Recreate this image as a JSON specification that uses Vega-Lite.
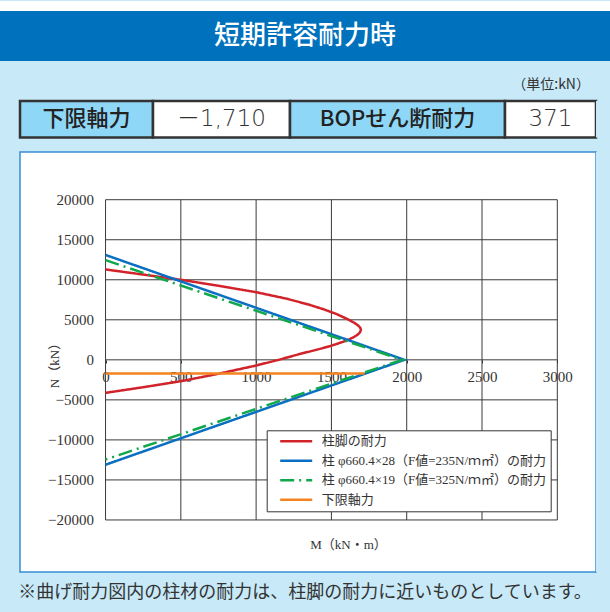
{
  "$schema": "https://vega.github.io/schema/vega-lite/v6.json",
  "padding": 0,
  "background": "#c7e9f8",
  "spacing": 0,
  "config": {"view": {"stroke": null}, "font": "Noto Sans CJK JP"},
  "datasets": {
    "vgrid": [{"M": 0}, {"M": 500}, {"M": 1000}, {"M": 1500}, {"M": 2000}, {"M": 2500}, {"M": 3000}],
    "hgrid": [{"N": -20000}, {"N": -15000}, {"N": -10000}, {"N": -5000}, {"N": 0}, {"N": 5000}, {"N": 10000}, {"N": 15000}, {"N": 20000}],
    "lines": [
      {"series": "柱脚の耐力", "i": 1, "M": 0, "N": 11290},
      {"series": "柱脚の耐力", "i": 2, "M": 250, "N": 10650},
      {"series": "柱脚の耐力", "i": 3, "M": 500, "N": 10000},
      {"series": "柱脚の耐力", "i": 4, "M": 750, "N": 9250},
      {"series": "柱脚の耐力", "i": 5, "M": 1000, "N": 8450},
      {"series": "柱脚の耐力", "i": 6, "M": 1200, "N": 7650},
      {"series": "柱脚の耐力", "i": 7, "M": 1350, "N": 6900},
      {"series": "柱脚の耐力", "i": 8, "M": 1450, "N": 6300},
      {"series": "柱脚の耐力", "i": 9, "M": 1530, "N": 5750},
      {"series": "柱脚の耐力", "i": 10, "M": 1600, "N": 5150},
      {"series": "柱脚の耐力", "i": 11, "M": 1650, "N": 4650},
      {"series": "柱脚の耐力", "i": 12, "M": 1680, "N": 4250},
      {"series": "柱脚の耐力", "i": 13, "M": 1692, "N": 4000},
      {"series": "柱脚の耐力", "i": 14, "M": 1696, "N": 3750},
      {"series": "柱脚の耐力", "i": 15, "M": 1690, "N": 3450},
      {"series": "柱脚の耐力", "i": 16, "M": 1675, "N": 3150},
      {"series": "柱脚の耐力", "i": 17, "M": 1645, "N": 2800},
      {"series": "柱脚の耐力", "i": 18, "M": 1602, "N": 2415},
      {"series": "柱脚の耐力", "i": 19, "M": 1550, "N": 2080},
      {"series": "柱脚の耐力", "i": 20, "M": 1491, "N": 1710},
      {"series": "柱脚の耐力", "i": 21, "M": 1400, "N": 1250},
      {"series": "柱脚の耐力", "i": 22, "M": 1294, "N": 750},
      {"series": "柱脚の耐力", "i": 23, "M": 1150, "N": 0},
      {"series": "柱脚の耐力", "i": 24, "M": 1000, "N": -710},
      {"series": "柱脚の耐力", "i": 25, "M": 750, "N": -1740},
      {"series": "柱脚の耐力", "i": 26, "M": 500, "N": -2670},
      {"series": "柱脚の耐力", "i": 27, "M": 250, "N": -3420},
      {"series": "柱脚の耐力", "i": 28, "M": 0, "N": -4125},
      {"series": "柱 φ660.4×28（F値=235N/ｍ㎡）の耐力", "i": 1, "M": 0, "N": 13100},
      {"series": "柱 φ660.4×28（F値=235N/ｍ㎡）の耐力", "i": 2, "M": 1985, "N": 0},
      {"series": "柱 φ660.4×28（F値=235N/ｍ㎡）の耐力", "i": 3, "M": 0, "N": -13100},
      {"series": "柱 φ660.4×19（F値=325N/ｍ㎡）の耐力", "i": 1, "M": 0, "N": 12450},
      {"series": "柱 φ660.4×19（F値=325N/ｍ㎡）の耐力", "i": 2, "M": 1970, "N": 0},
      {"series": "柱 φ660.4×19（F値=325N/ｍ㎡）の耐力", "i": 3, "M": 0, "N": -12450},
      {"series": "下限軸力", "i": 1, "M": 0, "N": -1710},
      {"series": "下限軸力", "i": 2, "M": 1720, "N": -1710}
    ]
  },
  "vconcat": [
    {"width": 610, "height": 10, "view": {"fill": "#ffffff", "stroke": null}, "data": {"values": [{}]}, "mark": {"type": "text", "text": ""}},
    {"width": 610, "height": 50, "view": {"fill": "#0071bc", "stroke": null}, "data": {"values": [{"t": "短期許容耐力時"}]}, "mark": {"type": "text", "color": "#ffffff", "fontSize": 26, "fontWeight": 500, "font": "Noto Sans CJK JP"}, "encoding": {"text": {"field": "t"}}},
    {"width": 610, "height": 38, "view": {"fill": "#c7e9f8", "stroke": null}, "data": {"values": [{"t": "（単位:kN）"}]}, "mark": {"type": "text", "align": "right", "dx": -20, "dy": 5, "fontSize": 14, "color": "#333333", "font": "Noto Sans CJK JP"}, "encoding": {"x": {"value": "width"}, "text": {"field": "t"}}},
    {
      "spacing": 0,
      "bounds": "flush",
      "hconcat": [
        {"width": 20, "height": 36.5, "view": {"fill": "#c7e9f8", "stroke": null}, "data": {"values": [{}]}, "mark": {"type": "text", "text": ""}},
        {"width": 133, "height": 36.5, "view": {"fill": "#8fd7f6", "stroke": "#333333", "strokeWidth": 2.5}, "data": {"values": [{"t": "下限軸力"}]}, "mark": {"type": "text", "fontSize": 22, "fontWeight": 500, "color": "#222222"}, "encoding": {"text": {"field": "t"}}},
        {"width": 137, "height": 36.5, "view": {"fill": "#ffffff", "stroke": "#333333", "strokeWidth": 2.5}, "data": {"values": [{"t": "－1,710"}]}, "mark": {"type": "text", "fontSize": 23, "fontWeight": 300, "color": "#333333", "font": "DejaVu Sans, Noto Sans CJK JP"}, "encoding": {"text": {"field": "t"}}},
        {"width": 215, "height": 36.5, "view": {"fill": "#8fd7f6", "stroke": "#333333", "strokeWidth": 2.5}, "data": {"values": [{"t": "BOPせん断耐力"}]}, "mark": {"type": "text", "fontSize": 22, "fontWeight": 500, "color": "#222222"}, "encoding": {"text": {"field": "t"}}},
        {"width": 91, "height": 36.5, "view": {"fill": "#ffffff", "stroke": "#333333", "strokeWidth": 2.5}, "data": {"values": [{"t": "371"}]}, "mark": {"type": "text", "fontSize": 23, "fontWeight": 300, "color": "#333333", "font": "DejaVu Sans, Noto Sans CJK JP"}, "encoding": {"text": {"field": "t"}}},
        {"width": 14, "height": 36.5, "view": {"fill": "#c7e9f8", "stroke": null}, "data": {"values": [{}]}, "mark": {"type": "text", "text": ""}}
      ]
    },
    {"width": 610, "height": 12, "view": {"fill": "#c7e9f8", "stroke": null}, "data": {"values": [{}]}, "mark": {"type": "text", "text": ""}},
    {
      "spacing": 0,
      "bounds": "flush",
      "hconcat": [
        {"width": 20, "height": 420, "view": {"fill": "#c7e9f8", "stroke": null}, "data": {"values": [{}]}, "mark": {"type": "text", "text": ""}},
        {
          "width": 576,
          "height": 420,
          "view": {"fill": "#ffffff", "stroke": "#3a8dd4", "strokeWidth": 1.5},
          "layer": [
            {
              "data": {"name": "vgrid"},
              "mark": {"type": "rule", "color": "#3a3a3a", "strokeWidth": 1},
              "encoding": {
                "x": {"field": "M", "type": "quantitative", "title": "M（kN・m）", "scale": {"domain": [-568, 3257], "nice": false, "zero": false}},
                "y": {"datum": -20000, "type": "quantitative", "title": "N（kN）", "scale": {"domain": [-26500, 25960], "nice": false, "zero": false}},
                "y2": {"datum": 20000}
              }
            },
            {
              "data": {"name": "hgrid"},
              "mark": {"type": "rule", "color": "#3a3a3a", "strokeWidth": 1},
              "encoding": {
                "y": {"field": "N", "type": "quantitative", "title": "N（kN）", "scale": {"domain": [-26500, 25960], "nice": false, "zero": false}},
                "x": {"datum": 0, "type": "quantitative", "title": "M（kN・m）", "scale": {"domain": [-568, 3257], "nice": false, "zero": false}},
                "x2": {"datum": 3000}
              }
            },
            {
              "data": {"name": "lines"},
              "mark": {"type": "line", "strokeWidth": 2.5},
              "encoding": {
                "x": {
                  "field": "M", "type": "quantitative", "title": "M（kN・m）",
                  "scale": {"domain": [-568, 3257], "nice": false, "zero": false},
                  "axis": {
                    "title": "M（kN・m）", "values": [0, 500, 1000, 1500, 2000, 2500, 3000], "format": "d",
                    "offset": -212, "domain": false, "grid": false, "ticks": true, "tickSize": 3, "tickColor": "#333333",
                    "labelFont": "Liberation Serif", "labelFontSize": 15, "labelColor": "#333333", "labelPadding": 6,
                    "labelFlush": false, "labelOverlap": false,
                    "titleFont": "Liberation Serif, Noto Sans CJK JP", "titleFontSize": 13, "titleFontWeight": "normal", "titleColor": "#333333",
                    "titleX": 328, "titleY": 184, "titleBaseline": "middle", "titleAlign": "center"
                  }
                },
                "y": {
                  "field": "N", "type": "quantitative", "title": "N（kN）",
                  "scale": {"domain": [-26500, 25960], "nice": false, "zero": false},
                  "axis": {
                    "title": "N（kN）", "values": [-20000, -15000, -10000, -5000, 0, 5000, 10000, 15000, 20000], "format": "d",
                    "offset": -85.5, "domain": false, "grid": false, "ticks": false, "labelPadding": 12,
                    "labelFont": "Liberation Serif", "labelFontSize": 15, "labelColor": "#333333",
                    "titleFont": "Liberation Serif, Noto Sans CJK JP", "titleFontSize": 13, "titleFontWeight": "normal", "titleColor": "#333333",
                    "titleX": -44
                  }
                },
                "order": {"field": "i", "type": "quantitative"},
                "color": {
                  "field": "series", "type": "nominal",
                  "scale": {
                    "domain": ["柱脚の耐力", "柱 φ660.4×28（F値=235N/ｍ㎡）の耐力", "柱 φ660.4×19（F値=325N/ｍ㎡）の耐力", "下限軸力"],
                    "range": ["#d2232a", "#0a6fc2", "#10a84a", "#f58220"]
                  },
                  "legend": {
                    "title": null, "orient": "none", "legendX": 266.7, "legendY": 429.3,
                    "fillColor": "#ffffff", "strokeColor": "#333333", "padding": 4,
                    "symbolType": "stroke", "symbolSize": 1024, "symbolStrokeWidth": 2.5, "clipHeight": 14, "rowPadding": 5.5,
                    "symbolOffset": 8, "labelOffset": 8,
                    "labelFont": "Liberation Serif, Noto Sans CJK JP", "labelFontSize": 13, "labelColor": "#333333", "labelLimit": 400
                  }
                },
                "strokeDash": {
                  "field": "series", "type": "nominal",
                  "scale": {
                    "domain": ["柱脚の耐力", "柱 φ660.4×28（F値=235N/ｍ㎡）の耐力", "柱 φ660.4×19（F値=325N/ｍ㎡）の耐力", "下限軸力"],
                    "range": [[1, 0], [1, 0], [14, 5, 2, 5], [1, 0]]
                  },
                  "legend": {
                    "title": null, "orient": "none", "legendX": 266.7, "legendY": 429.3,
                    "fillColor": "#ffffff", "strokeColor": "#333333", "padding": 4,
                    "symbolType": "stroke", "symbolSize": 1024, "symbolStrokeWidth": 2.5, "clipHeight": 14, "rowPadding": 5.5,
                    "symbolOffset": 8, "labelOffset": 8,
                    "labelFont": "Liberation Serif, Noto Sans CJK JP", "labelFontSize": 13, "labelColor": "#333333", "labelLimit": 400
                  }
                }
              }
            }
          ]
        },
        {"width": 14, "height": 420, "view": {"fill": "#c7e9f8", "stroke": null}, "data": {"values": [{}]}, "mark": {"type": "text", "text": ""}}
      ]
    },
    {"width": 610, "height": 42, "view": {"fill": "#c7e9f8", "stroke": null}, "data": {"values": [{"t": "※曲げ耐力図内の柱材の耐力は、柱脚の耐力に近いものとしています。"}]}, "mark": {"type": "text", "fontSize": 18, "dy": -1, "color": "#333333", "font": "Noto Sans CJK JP"}, "encoding": {"text": {"field": "t"}}}
  ]
}
